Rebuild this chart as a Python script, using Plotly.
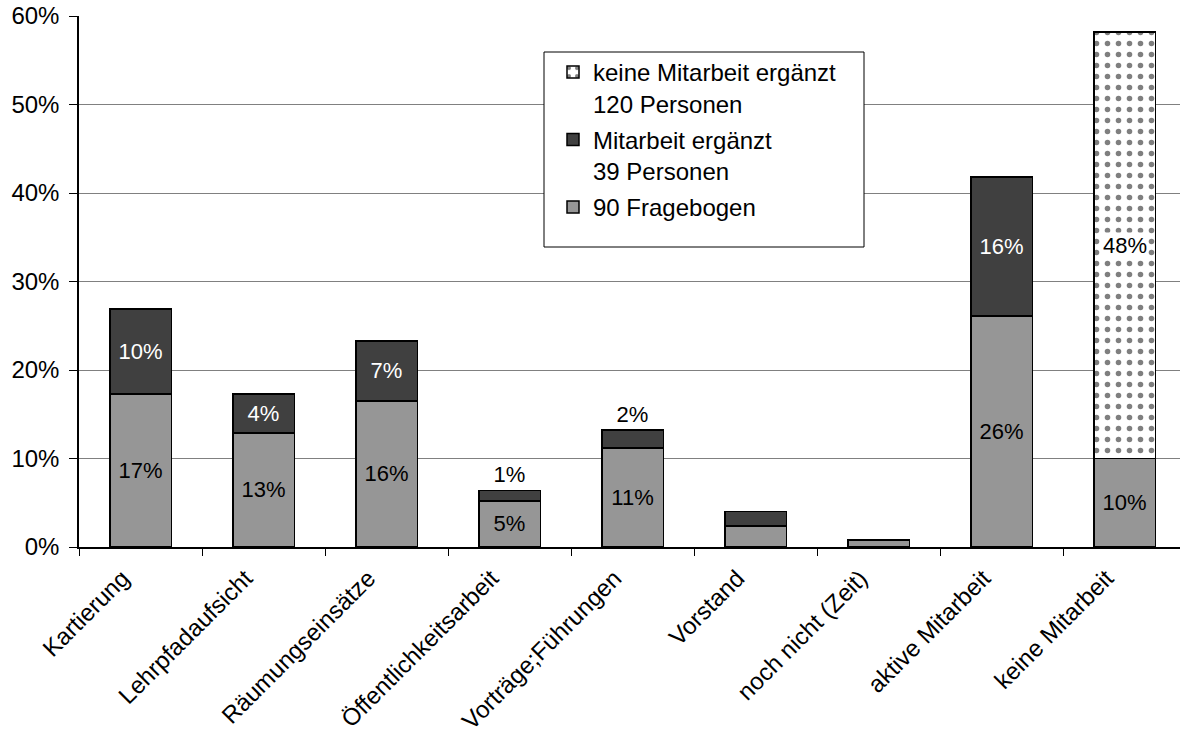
import plotly.graph_objects as go

# Share of respondents per activity (percent of 249 persons)
categories = [
    "Kartierung", "Lehrpfadaufsicht", "Räumungseinsätze", "Öffentlichkeitsarbeit",
    "Vorträge;Führungen", "Vorstand", "noch nicht (Zeit)", "aktive Mitarbeit", "keine Mitarbeit",
]
fragebogen = [17.3, 12.9, 16.5, 5.2, 11.2, 2.4, 0.8, 26.1, 10.0]
mitarbeit_ergaenzt = [9.6, 4.4, 6.8, 1.2, 2.0, 1.6, 0.0, 15.7, 0.0]
keine_mitarbeit_ergaenzt = [0, 0, 0, 0, 0, 0, 0, 0, 48.2]

# which segments carry a value label, and where it sits
fragebogen_labelpos = ["inside", "inside", "inside", "inside", "inside", "none", "none", "inside", "inside"]
ergaenzt_labelpos = ["inside", "inside", "inside", "outside", "outside", "none", "none", "inside", "none"]

y_ticks = [0, 10, 20, 30, 40, 50, 60]

FONT = "Liberation Sans, Arial, sans-serif"
LIGHT = "#969696"
DARK = "#404040"

fig = go.Figure()

fig.add_trace(go.Bar(
    x=categories, y=fragebogen, name="90 Fragebogen",
    legendrank=3, legendgroup="fragebogen",
    marker=dict(color=LIGHT, line=dict(color="black", width=1.5)),
    text=[f"{round(v)}%" for v in fragebogen],
    textposition=fragebogen_labelpos, textangle=0, insidetextanchor="middle",
    insidetextfont=dict(family=FONT, size=22, color="black"),
    constraintext="none", hoverinfo="skip",
))

fig.add_trace(go.Bar(
    x=categories, y=mitarbeit_ergaenzt, name="Mitarbeit ergänzt<br>39 Personen",
    legendrank=2, legendgroup="ergaenzt",
    marker=dict(color=DARK, line=dict(color="black", width=1.5)),
    text=[f"{round(v)}%" for v in mitarbeit_ergaenzt],
    textposition=ergaenzt_labelpos, textangle=0, insidetextanchor="middle",
    insidetextfont=dict(family=FONT, size=22, color="white"),
    outsidetextfont=dict(family=FONT, size=22, color="black"),
    constraintext="none", cliponaxis=False, hoverinfo="skip",
))

fig.add_trace(go.Bar(
    x=categories, y=keine_mitarbeit_ergaenzt, name="keine Mitarbeit ergänzt<br>120 Personen",
    legendrank=1, legendgroup="keine",
    marker=dict(
        color="white", line=dict(color="black", width=1.5),
        pattern=dict(shape=".", fgcolor="black", bgcolor="white", size=11, solidity=0.2),
    ),
    hoverinfo="skip",
))

# label of the dotted segment on a white background
for cat, base, v in zip(categories, fragebogen, keine_mitarbeit_ergaenzt):
    if v > 0:
        fig.add_annotation(
            x=cat, y=base + v / 2, text=f"{round(v)}%", showarrow=False,
            font=dict(family=FONT, size=22, color="black"),
            bgcolor="white", borderpad=0,
        )

# legend frame
fig.add_shape(
    type="rect", xref="paper", yref="paper",
    x0=(544 - 79) / 1101, x1=(864 - 79) / 1101,
    y0=1 - (247 - 16) / 531, y1=1 - (52 - 16) / 531,
    line=dict(color="black", width=1), fillcolor="white", layer="above",
)

fig.update_layout(
    width=1180, height=744,
    margin=dict(l=79, r=0, t=16, b=197, pad=0),
    paper_bgcolor="white", plot_bgcolor="white",
    barmode="stack", bargap=0.5,
    font=dict(family=FONT, size=24, color="black"),
    showlegend=True,
    legend=dict(
        x=(553 - 79) / 1101, xanchor="left",
        y=1 - (50 - 16) / 531, yanchor="top",
        bgcolor="rgba(0,0,0,0)", borderwidth=0,
        font=dict(family=FONT, size=24, color="black"),
        traceorder="grouped", tracegroupgap=2, valign="top",
    ),
    xaxis=dict(
        range=[-0.5, -0.5 + 1101 / 123.0],
        showline=True, linecolor="black", linewidth=1.5,
        ticks="outside", tickson="boundaries", ticklen=7, tickcolor="black", tickwidth=1,
        tickangle=-45, tickfont=dict(family=FONT, size=24, color="black"),
        ticklabelshift=-18, ticklabelstandoff=6,
        showgrid=False,
    ),
    yaxis=dict(
        range=[0, 60], tickvals=y_ticks, ticktext=[f"{t}%" for t in y_ticks],
        showline=True, linecolor="black", linewidth=1.5,
        ticks="outside", ticklen=8, tickcolor="black", tickwidth=1,
        ticklabelstandoff=5,
        showgrid=True, gridcolor="#808080", gridwidth=1, zeroline=False,
        tickfont=dict(family=FONT, size=24, color="black"),
    ),
)

fig.write_html("out.html")
